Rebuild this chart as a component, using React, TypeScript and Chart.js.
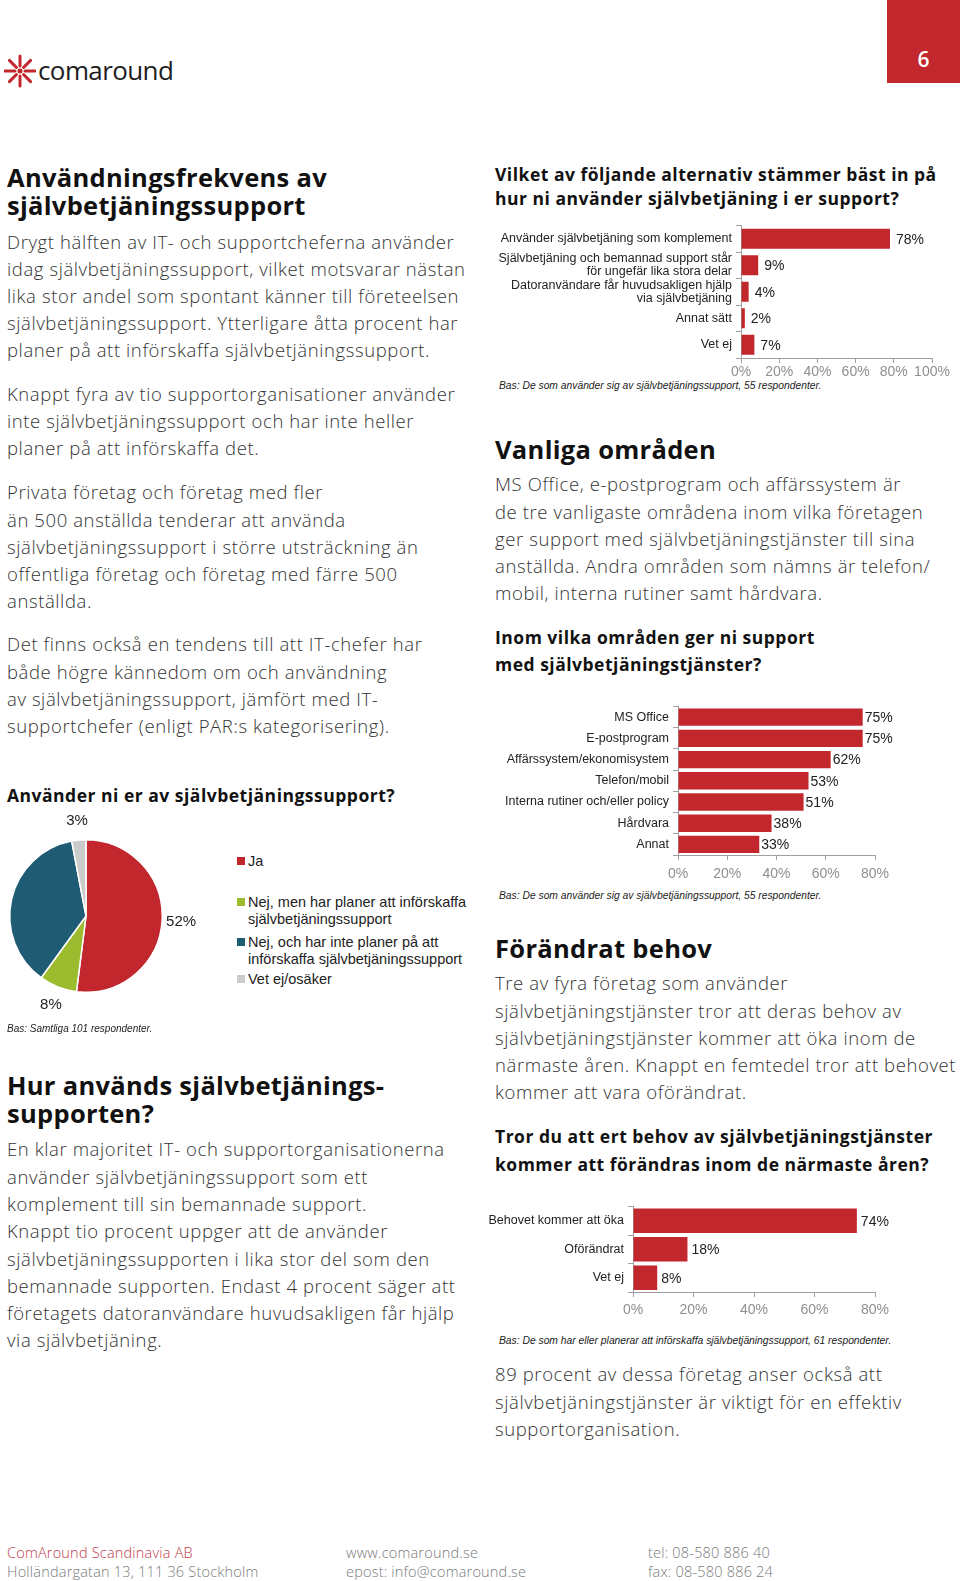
import React, { useEffect, useRef } from "react";
import { Chart, registerables } from "chart.js";
Chart.register(...registerables);

const RED = "#c1272d";
const BODY_FONT = "'Open Sans', Lato, sans-serif";
const CHART_FONT = "'Liberation Sans', Arial, sans-serif";

// ---------- DATA ----------
const pieLabels = ["Ja", "Nej, men har planer att införskaffa självbetjäningssupport", "Nej, och har inte planer på att införskaffa självbetjäningssupport", "Vet ej/osäker"];
const pieValues = [52, 8, 37, 3];
const pieColors = ["#c1272d", "#9cbb2e", "#1f5c73", "#cbcbcb"];

const usageLabels = [
  "Använder självbetjäning som komplement",
  ["Självbetjäning och bemannad support står", "för ungefär lika stora delar"],
  ["Datoranvändare får huvudsakligen hjälp", "via självbetjäning"],
  "Annat sätt",
  "Vet ej",
];
const usageValues = [78, 9, 4, 2, 7];

const areaLabels = ["MS Office", "E-postprogram", "Affärssystem/ekonomisystem", "Telefon/mobil", "Interna rutiner och/eller policy", "Hårdvara", "Annat"];
const areaValues = [75, 75, 62, 53, 51, 38, 33];

const needLabels = ["Behovet kommer att öka", "Oförändrat", "Vet ej"];
const needValues = [74, 18, 8];

// ---------- TEXT ----------
const p1 = [
  "Drygt hälften av IT- och supportcheferna använder",
  "idag självbetjäningssupport, vilket motsvarar nästan",
  "lika stor andel som spontant känner till företeelsen",
  "självbetjäningssupport. Ytterligare åtta procent har",
  "planer på att införskaffa självbetjäningssupport.",
];
const p2 = [
  "Knappt fyra av tio supportorganisationer använder",
  "inte självbetjäningssupport och har inte heller",
  "planer på att införskaffa det.",
];
const p3 = [
  "Privata företag och företag med fler",
  "än 500 anställda tenderar att använda",
  "självbetjäningssupport i större utsträckning än",
  "offentliga företag och företag med färre 500",
  "anställda.",
];
const p4 = [
  "Det finns också en tendens till att IT-chefer har",
  "både högre kännedom om och användning",
  "av självbetjäningssupport, jämfört med IT-",
  "supportchefer (enligt PAR:s kategorisering).",
];
const p5 = [
  "En klar majoritet IT- och supportorganisationerna",
  "använder självbetjäningssupport som ett",
  "komplement till sin bemannade support.",
  "Knappt tio procent uppger att de använder",
  "självbetjäningssupporten i lika stor del som den",
  "bemannade supporten. Endast 4 procent säger att",
  "företagets datoranvändare huvudsakligen får hjälp",
  "via självbetjäning.",
];
const r1 = [
  "MS Office, e-postprogram och affärssystem är",
  "de tre vanligaste områdena inom vilka företagen",
  "ger support med självbetjäningstjänster till sina",
  "anställda. Andra områden som nämns är telefon/",
  "mobil, interna rutiner samt hårdvara.",
];
const r2 = [
  "Tre av fyra företag som använder",
  "självbetjäningstjänster tror att deras behov av",
  "självbetjäningstjänster kommer att öka inom de",
  "närmaste åren. Knappt en femtedel tror att behovet",
  "kommer att vara oförändrat.",
];
const r3 = [
  "89 procent av dessa företag anser också att",
  "självbetjäningstjänster är viktigt för en effektiv",
  "supportorganisation.",
];

function Lines(props: { x: number; y: number; lines: string[]; size: number; weight?: number; lh: number; color?: string; font?: string; italic?: boolean; ls?: number }) {
  const { x, y, lines, size, weight = 300, lh, color = "#333", font = BODY_FONT, italic, ls = 0 } = props;
  return (
    <div style={{ position: "absolute", left: x, top: y - lh / 2, fontFamily: font, fontSize: size, fontWeight: weight, lineHeight: lh + "px", color, whiteSpace: "nowrap", fontStyle: italic ? "italic" : "normal", letterSpacing: ls }}>
      {lines.map((l, i) => (
        <div key={i}>{l}</div>
      ))}
    </div>
  );
}

const Body = (p: { x: number; y: number; lines: string[]; lh?: number }) => (
  <Lines x={p.x} y={p.y} lines={p.lines} size={18.5} lh={p.lh ?? 27.2} ls={0.6} color="#333" />
);
const Heading = (p: { x: number; y: number; lines: string[]; lh?: number }) => (
  <Lines x={p.x} y={p.y} lines={p.lines} size={25.5} weight={700} lh={p.lh ?? 28} ls={0.3} color="#111" />
);
const Question = (p: { x: number; y: number; lines: string[]; lh?: number }) => (
  <Lines x={p.x} y={p.y} lines={p.lines} size={17.5} weight={700} lh={p.lh ?? 24} ls={0.5} color="#111" />
);

type BarProps = {
  labels: any[];
  values: number[];
  max: number;
  left: number;
  top: number;
  width: number;
  height: number;
  yWidth: number;
  xHeight: number;
  padTop: number;
  padRight: number;
  barPct: number;
  gap: number;
  tickPad: number;
  labelSize: number;
};

function BarChart(p: BarProps) {
  const ref = useRef<HTMLCanvasElement>(null);
  useEffect(() => {
    const valueLabels = {
      id: "valueLabels",
      afterDatasetsDraw(chart: any) {
        const ctx = chart.ctx;
        const meta = chart.getDatasetMeta(0);
        ctx.save();
        ctx.font = "14px " + CHART_FONT;
        ctx.fillStyle = "#222";
        ctx.textBaseline = "middle";
        ctx.textAlign = "left";
        meta.data.forEach((bar: any, i: number) => {
          ctx.fillText(p.values[i] + "%", bar.x + p.gap, bar.y + 1);
        });
        ctx.restore();
      },
    };
    const chart = new Chart(ref.current!, {
      type: "bar",
      data: {
        labels: p.labels,
        datasets: [{ data: p.values, backgroundColor: RED, barPercentage: p.barPct, categoryPercentage: 1 }],
      },
      options: {
        indexAxis: "y",
        animation: false,
        responsive: false,
        maintainAspectRatio: false,
        layout: { padding: { top: p.padTop, right: p.padRight, left: 0, bottom: 0 } },
        plugins: { legend: { display: false }, tooltip: { enabled: false } },
        scales: {
          x: {
            min: 0,
            max: p.max,
            afterFit: (s: any) => { s.height = p.xHeight; },
            grid: { drawOnChartArea: false, drawTicks: true, tickLength: 5, color: "#a0a0a0" },
            border: { display: true, color: "#a0a0a0" },
            ticks: { stepSize: 20, autoSkip: false, padding: p.tickPad, color: "#8f8f8f", font: { family: CHART_FONT, size: 14 }, callback: (v: any) => v + "%", maxRotation: 0 },
          },
          y: {
            afterFit: (s: any) => { s.width = p.yWidth; },
            grid: { drawOnChartArea: false, drawTicks: true, tickLength: 5, color: "#a0a0a0", offset: true },
            border: { display: true, color: "#a0a0a0" },
            ticks: { padding: 4, color: "#222", font: { family: CHART_FONT, size: p.labelSize, lineHeight: 1.05 }, autoSkip: false },
          },
        },
      },
      plugins: [valueLabels],
    } as any);
    return () => chart.destroy();
  }, []);
  return <canvas ref={ref} width={p.width} height={p.height} style={{ position: "absolute", left: p.left, top: p.top, width: p.width, height: p.height }} />;
}

function PieChart() {
  const ref = useRef<HTMLCanvasElement>(null);
  useEffect(() => {
    const pieText = {
      id: "pieText",
      afterDatasetsDraw(chart: any) {
        const ctx = chart.ctx;
        const meta = chart.getDatasetMeta(0);
        ctx.save();
        ctx.font = "15px " + CHART_FONT;
        ctx.fillStyle = "#222";
        ctx.textBaseline = "middle";
        ctx.textAlign = "center";
        meta.data.forEach((arc: any, i: number) => {
          if (i === 2) return;
          const a = (arc.startAngle + arc.endAngle) / 2;
          const r = arc.outerRadius + 19;
          ctx.fillText(pieValues[i] + "%", arc.x + Math.cos(a) * r, arc.y + Math.sin(a) * r);
        });
        ctx.restore();
      },
    };
    const chart = new Chart(ref.current!, {
      type: "pie",
      data: {
        labels: pieLabels,
        datasets: [{ data: pieValues, backgroundColor: pieColors, borderColor: "#fff", borderWidth: 1.5 }],
      },
      options: {
        animation: false,
        responsive: false,
        maintainAspectRatio: false,
        layout: { padding: { left: 9, right: 67, top: 29, bottom: 32 } },
        plugins: { legend: { display: false }, tooltip: { enabled: false } },
      },
      plugins: [pieText],
    } as any);
    return () => chart.destroy();
  }, []);
  return <canvas ref={ref} width={230} height={215} style={{ position: "absolute", left: 0, top: 810, width: 230, height: 215 }} />;
}

const legendItems: { color: string; lines: string[]; y: number }[] = [
  { color: pieColors[0], lines: ["Ja"], y: 861 },
  { color: pieColors[1], lines: ["Nej, men har planer att införskaffa", "självbetjäningssupport"], y: 902 },
  { color: pieColors[2], lines: ["Nej, och har inte planer på att", "införskaffa självbetjäningssupport"], y: 942 },
  { color: pieColors[3], lines: ["Vet ej/osäker"], y: 979 },
];

function Logo() {
  const rays = [0, 45, 90, 135, 180, 225, 270, 315];
  return (
    <div style={{ position: "absolute", left: 4, top: 54 }}>
      <svg width={32} height={34} style={{ position: "absolute", left: 0, top: 0 }}>
        {rays.map((d) => {
          const a = (d * Math.PI) / 180;
          const x1 = 16 + Math.cos(a) * 5, y1 = 17 + Math.sin(a) * 5;
          const x2 = 16 + Math.cos(a) * 15, y2 = 17 + Math.sin(a) * 15;
          return <line key={d} x1={x1} y1={y1} x2={x2} y2={y2} stroke={RED} strokeWidth={3} strokeLinecap="round" />;
        })}
        <circle cx={16} cy={17} r={2.5} fill={RED} />
      </svg>
      <div style={{ position: "absolute", left: 34, top: -2, fontFamily: BODY_FONT, fontSize: 26, fontWeight: 500, color: "#1d1d1d", letterSpacing: -0.6, whiteSpace: "nowrap" }}>comaround</div>
    </div>
  );
}

export default function App() {
  const FOOT = { size: 14.5, lh: 19, ls: 0.2 };
  return (
    <div style={{ position: "absolute", left: 0, top: 0, width: 960, height: 1581, background: "#fff", overflow: "hidden" }}>
      <Logo />
      <div style={{ position: "absolute", left: 887, top: 0, width: 73, height: 83, background: RED }}>
        <div style={{ position: "absolute", left: 0, right: 0, top: 45, textAlign: "center", color: "#fff", fontFamily: BODY_FONT, fontSize: 21, fontWeight: 600, lineHeight: "28px" }}>6</div>
      </div>

      {/* Left column */}
      <Heading x={7} y={177} lines={["Användningsfrekvens av", "självbetjäningssupport"]} />
      <Body x={7} y={241} lines={p1} lh={27} />
      <Body x={7} y={393} lines={p2} lh={27} />
      <Body x={7} y={492} lines={p3} />
      <Body x={7} y={644} lines={p4} />
      <Question x={7} y={795} lines={["Använder ni er av självbetjäningssupport?"]} />

      <PieChart />
      {legendItems.map((it, i) => (
        <div key={i}>
          <div style={{ position: "absolute", left: 237, top: it.y - 4, width: 8, height: 8, background: it.color }} />
          <Lines x={248} y={it.y} lines={it.lines} size={14.5} weight={400} lh={17} color="#222" font={CHART_FONT} />
        </div>
      ))}
      <Lines x={7} y={1029} lines={["Bas: Samtliga 101 respondenter."]} size={10} weight={400} lh={12} color="#222" font={CHART_FONT} italic />

      <Heading x={7} y={1086} lines={["Hur används självbetjänings-", "supporten?"]} lh={27.5} />
      <Body x={7} y={1149} lines={p5} lh={27.3} />

      {/* Right column */}
      <Question x={495} y={174} lines={["Vilket av följande alternativ stämmer bäst in på", "hur ni använder självbetjäning i er support?"]} />
      <BarChart labels={usageLabels} values={usageValues} max={100} left={485} top={215} width={470} height={165} yWidth={256} xHeight={22} padTop={8.6} padRight={23} barPct={0.76} gap={6} tickPad={1} labelSize={12.5} />
      <Lines x={499} y={386} lines={["Bas: De som använder sig av självbetjäningssupport, 55 respondenter."]} size={10.3} weight={400} lh={12} color="#222" font={CHART_FONT} italic />

      <Heading x={495} y={449} lines={["Vanliga områden"]} />
      <Body x={495} y={484} lines={r1} />
      <Question x={495} y={637} lines={["Inom vilka områden ger ni support", "med självbetjäningstjänster?"]} lh={27} />
      <BarChart labels={areaLabels} values={areaValues} max={80} left={485} top={696} width={415} height={184} yWidth={193} xHeight={25} padTop={8.25} padRight={25} barPct={0.82} gap={2} tickPad={6} labelSize={12.5} />
      <Lines x={499} y={896} lines={["Bas: De som använder sig av självbetjäningssupport, 55 respondenter."]} size={10.3} weight={400} lh={12} color="#222" font={CHART_FONT} italic />

      <Heading x={495} y={948} lines={["Förändrat behov"]} />
      <Body x={495} y={983} lines={r2} />
      <Question x={495} y={1136} lines={["Tror du att ert behov av självbetjäningstjänster", "kommer att förändras inom de närmaste åren?"]} lh={28} />
      <BarChart labels={needLabels} values={needValues} max={80} left={485} top={1196} width={420} height={120} yWidth={148} xHeight={24} padTop={8.5} padRight={30} barPct={0.86} gap={4} tickPad={4.5} labelSize={12.5} />
      <Lines x={499} y={1341} lines={["Bas: De som har eller planerar att införskaffa självbetjäningssupport, 61 respondenter."]} size={10.3} weight={400} lh={12} color="#222" font={CHART_FONT} italic />
      <Body x={495} y={1374} lines={r3} lh={27.5} />

      {/* Footer */}
      <Lines x={7} y={1552} lines={["ComAround Scandinavia AB"]} size={FOOT.size} lh={FOOT.lh} ls={FOOT.ls} color="#c0394a" />
      <Lines x={7} y={1571} lines={["Holländargatan 13, 111 36 Stockholm"]} size={FOOT.size} lh={FOOT.lh} ls={FOOT.ls} color="#7a7a7a" />
      <Lines x={346} y={1552} lines={["www.comaround.se"]} size={FOOT.size} lh={FOOT.lh} ls={FOOT.ls} color="#7a7a7a" />
      <Lines x={346} y={1571} lines={["epost: info@comaround.se"]} size={FOOT.size} lh={FOOT.lh} ls={FOOT.ls} color="#7a7a7a" />
      <Lines x={648} y={1552} lines={["tel: 08-580 886 40"]} size={FOOT.size} lh={FOOT.lh} ls={FOOT.ls} color="#7a7a7a" />
      <Lines x={648} y={1571} lines={["fax: 08-580 886 24"]} size={FOOT.size} lh={FOOT.lh} ls={FOOT.ls} color="#7a7a7a" />
    </div>
  );
}
